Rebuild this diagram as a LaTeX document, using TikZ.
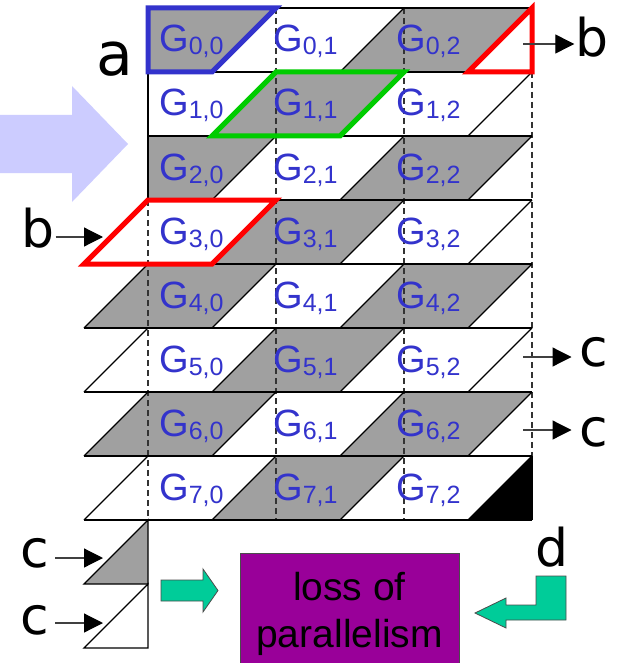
\documentclass[tikz,border=0pt]{standalone}
\usepackage{fontspec}
\setmainfont{Liberation Sans}
\newfontfamily\letterfont{DejaVu Sans}
\usetikzlibrary{arrows.meta}
\definecolor{skgray}{HTML}{A0A0A0}
\definecolor{skblue}{HTML}{3333CC}
\definecolor{skgreen}{HTML}{00CC00}
\definecolor{skred}{HTML}{FF0000}
\definecolor{sklav}{HTML}{CCCCFF}
\definecolor{skteal}{HTML}{00CC99}
\definecolor{skpurple}{HTML}{990099}
\definecolor{skdash}{HTML}{333333}
\newcommand{\glabtext}[2]{G{\fontsize{25}{28}\selectfont\raisebox{-3pt}{#1,#2}}}

\begin{document}
\begin{tikzpicture}[x=1pt, y=-1pt,
  cellline/.style={line width=1.3pt, draw=black},
  gridcut/.style={line width=1.3pt, draw=skdash, dash pattern=on 6pt off 4pt},
  hilite/.style={line width=5pt},
  glabel/.style={anchor=base west, inner sep=0pt, text=skblue, font=\fontsize{38}{40}\selectfont},
  letter/.style={inner sep=0pt, font=\letterfont\fontsize{52}{56}\selectfont},
  ptr/.style={line width=1.2pt, draw=black!75, -{Triangle[length=19pt, width=19pt, black]}},
  fatarrow/.style={fill=skteal, draw=black!70, line width=0.8pt},
  lossbox/.style={fill=skpurple, draw=black!70, line width=0.8pt, minimum width=219pt, minimum height=115pt, inner sep=0pt},
  losstext/.style={anchor=base, inner sep=0pt, font=\fontsize{39}{47}\selectfont},
]
\useasboundingbox (0,0) rectangle (616,663);
\fill[white] (0,0) rectangle (616,663);

\fill[sklav] (-2,115) -- (72,115) -- (72,86) -- (128,144) -- (72,202) -- (72,173) -- (-2,173) -- cycle;

\foreach \r in {0,...,7} {
  \foreach \k in {0,1,2} {
    \pgfmathtruncatemacro\shade{mod(\r+\k,2)}
    \pgfmathsetmacro\bl{(\r<3 && \k==0) ? 148 : 84+128*\k}
    \ifnum\shade=0
      \fill[skgray] (148+128*\k, 8+64*\r) -- (276+128*\k, 8+64*\r) -- (212+128*\k, 72+64*\r) -- (\bl, 72+64*\r) -- cycle;
    \fi
  }
}
\fill[black] (532,456) -- (532,520) -- (468,520) -- cycle;
\draw[cellline, fill=skgray] (148,520) -- (148,584) -- (84,584) -- cycle;
\draw[cellline, fill=white] (148,584) -- (148,648) -- (84,648) -- cycle;

\draw[gridcut] (276,8) -- (276,520);
\draw[gridcut] (404,8) -- (404,520);
\draw[gridcut] (148,200) -- (148,520);
\draw[gridcut] (532,72) -- (532,456);

\foreach \r in {0,...,8} {
  \pgfmathsetmacro\hl{\r<4 ? 148 : 84}
  \draw[cellline] (\hl, 8+64*\r) -- (532, 8+64*\r);
}
\foreach \r in {0,...,7} {
  \pgfmathtruncatemacro\kfirst{\r<3 ? 1 : 0}
  \foreach \k in {\kfirst,...,3} {
    \draw[cellline] (148+128*\k, 8+64*\r) -- (84+128*\k, 72+64*\r);
  }
}
\draw[cellline] (148,8) -- (148,200);
\draw[cellline] (532,456) -- (532,520);

\foreach \r in {0,...,7} {
  \foreach \k/\gx in {0/159, 1/273, 2/396} {
    \node[glabel] (g\r\k) at (\gx, 52+64*\r) {\glabtext{\r}{\k}};
  }
}

\draw[hilite, skblue] (148,8) -- (276,8) -- (212,72) -- (148,72) -- cycle;
\draw[hilite, skgreen] (276,72) -- (404,72) -- (340,136) -- (212,136) -- cycle;
\draw[hilite, skred] (532,8) -- (532,72) -- (468,72) -- cycle;
\draw[hilite, skred] (148,200) -- (276,200) -- (212,264) -- (84,264) -- cycle;

\node[letter, font=\letterfont\fontsize{60}{64}\selectfont] (lblA) at (115,59) {a};
\node[letter] (bL) at (38,228) {b};
\node[letter] (bR) at (592,37) {b};
\node[letter] (cR1) at (594,352) {c};
\node[letter] (cR2) at (594,432) {c};
\node[letter] (cL1) at (35,553) {c};
\node[letter] (cL2) at (35,620) {c};
\node[letter] (lblD) at (552,547) {d};

\coordinate (bLtip) at (103,237);
\coordinate (bRtail) at (523,44);
\coordinate (cR1tail) at (523,357);
\coordinate (cR2tail) at (523,430);
\coordinate (cL1tip) at (103,558);
\coordinate (cL2tip) at (103,623);
\draw[ptr] ([xshift=1pt]bL.east |- bLtip) -- (bLtip);
\draw[ptr] (bRtail) -- ([xshift=-1pt]bR.west |- bRtail);
\draw[ptr] (cR1tail) -- ([xshift=-8pt]cR1.west |- cR1tail);
\draw[ptr] (cR2tail) -- ([xshift=-8pt]cR2.west |- cR2tail);
\draw[ptr] ([xshift=6pt]cL1.east |- cL1tip) -- (cL1tip);
\draw[ptr] ([xshift=6pt]cL2.east |- cL2tip) -- (cL2tip);

\node[lossbox] (loss) at (349.5,610.5) {};
\node[losstext] (lossA) at (349.5,600) {loss of};
\node[losstext] (lossB) at (349.5,647) {parallelism};

\draw[fatarrow] (161,580) -- (203,580) -- (203,569) -- (218,590.5) -- (203,612) -- (203,601) -- (161,601) -- cycle;
\draw[fatarrow] (566,576) -- (536,576) -- (536,605) -- (506,605) -- (506,598) -- (475,613) -- (506,628) -- (506,620) -- (566,620) -- cycle;
\end{tikzpicture}
\end{document}
